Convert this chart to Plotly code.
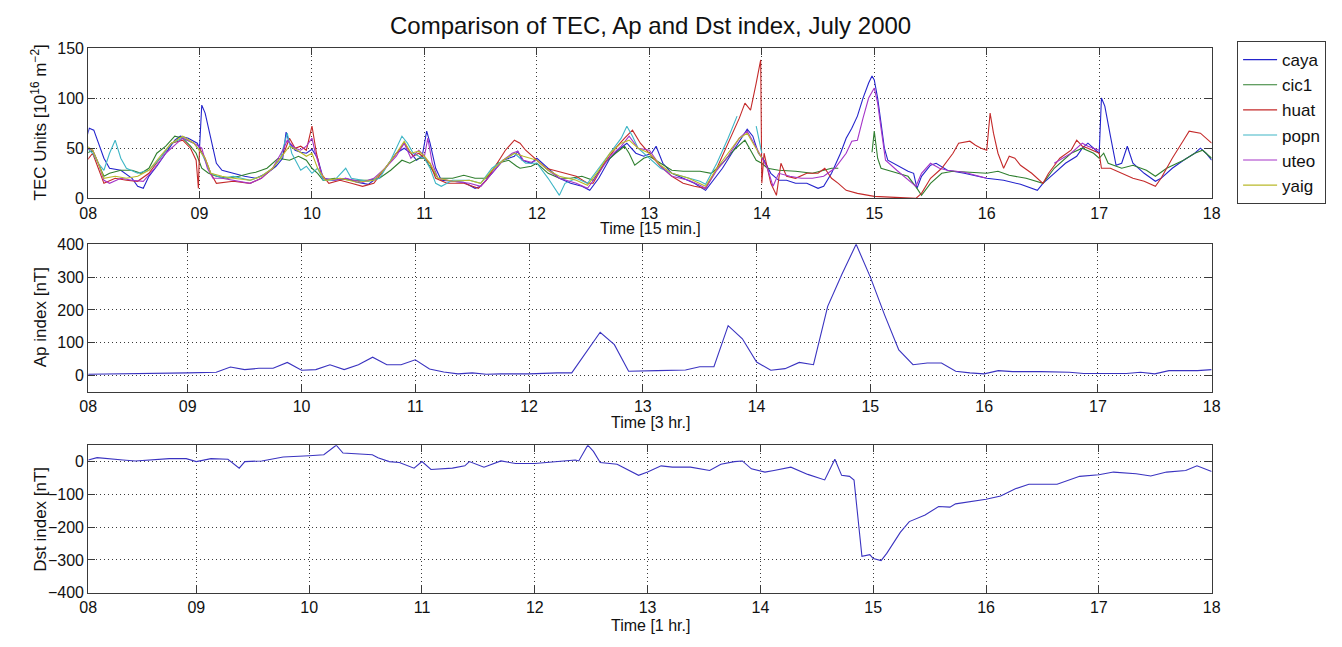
import plotly.graph_objects as go

# ---------------- data (day of July 2000, value) ----------------
CAYA = [(8.0,62),(8.02,70),(8.06,68),(8.1,55),(8.15,40),(8.2,30),(8.3,28),(8.4,20),(8.45,12),(8.5,10),
        (8.55,22),(8.62,32),(8.7,45),(8.78,58),(8.83,62),(8.9,60),(8.98,55),(9.0,50),(9.02,93),(9.05,85),
        (9.1,60),(9.15,35),(9.2,28),(9.3,25),(9.4,22),(9.5,20),(9.6,25),(9.68,32),(9.74,40),(9.77,66),
        (9.8,55),(9.85,48),(9.9,46),(9.95,45),(10.0,49),(10.05,40),(10.1,20),(10.2,18),(10.3,20),(10.4,16),
        (10.5,14),(10.55,18),(10.65,30),(10.75,45),(10.82,50),(10.88,45),(10.93,38),(10.98,42),(11.02,67),
        (11.05,55),(11.1,30),(11.15,18),(11.25,17),(11.35,16),(11.45,10),(11.5,12),(11.6,25),(11.7,38),
        (11.8,42),(11.83,47),(11.87,38),(11.95,35),(12.0,40),(12.1,30),(12.2,20),(12.3,15),(12.4,12),
        (12.47,8),(12.55,20),(12.65,40),(12.72,48),(12.8,55),(12.88,45),(12.95,42),(13.02,45),(13.06,52),
        (13.12,35),(13.2,25),(13.3,20),(13.4,15),(13.5,8),(13.55,15),(13.65,30),(13.75,48),(13.82,60),
        (13.87,69),(13.92,62),(13.97,45),(14.02,38),(14.08,25),(14.15,18),(14.22,18),(14.3,15),(14.4,15),
        (14.5,10),(14.55,12),(14.62,25),(14.7,45),(14.75,60),(14.8,70),(14.85,82),(14.9,100),(14.95,115),
        (14.98,122),(15.0,118),(15.03,100),(15.06,75),(15.09,50),(15.12,38),(15.2,33),(15.3,27),(15.35,25),
        (15.38,10),(15.42,22),(15.5,33),(15.55,35),(15.65,28),(15.8,25),(16.0,20),(16.15,18),(16.3,14),
        (16.45,8),(16.5,15),(16.6,25),(16.7,35),(16.8,42),(16.85,50),(16.9,55),(16.97,48),(17.0,45),
        (17.02,100),(17.05,92),(17.1,62),(17.15,33),(17.2,35),(17.25,52),(17.3,35),(17.4,25),(17.5,17),
        (17.55,20),(17.65,30),(17.75,38),(17.85,45),(17.9,50),(17.95,45),(18.0,38)]

CIC1 = [(8.0,45),(8.05,48),(8.1,35),(8.15,22),(8.2,25),(8.3,28),(8.4,28),(8.48,25),(8.55,30),(8.62,45),
        (8.7,52),(8.78,62),(8.85,60),(8.92,52),(8.97,45),(9.02,30),(9.08,25),(9.15,22),(9.25,20),(9.35,22),
        (9.45,25),(9.5,26),(9.6,30),(9.7,40),(9.8,38),(9.88,42),(9.95,38),(10.0,30),(10.05,25),(10.1,18),
        (10.2,20),(10.35,18),(10.5,18),(10.6,20),(10.7,28),(10.8,38),(10.87,35),(10.95,40),(11.0,40),
        (11.05,32),(11.12,20),(11.25,20),(11.35,23),(11.45,20),(11.55,20),(11.65,35),(11.75,38),(11.82,32),
        (11.85,30),(11.95,32),(12.0,35),(12.1,25),(12.2,20),(12.3,20),(12.4,22),(12.5,18),(12.6,35),
        (12.7,45),(12.78,52),(12.82,45),(12.87,33),(12.95,40),(13.0,42),(13.1,35),(13.2,28),(13.3,27),
        (13.45,27),(13.55,25),(13.65,35),(13.75,48),(13.85,58),(13.9,48),(13.95,38),(14.0,35),(14.05,30),
        (14.15,28),(14.3,27),(14.45,25),(14.55,28),(14.62,30),(14.68,30),(14.8,None),(14.98,46),(15.0,67),
        (15.03,40),(15.06,30),(15.15,27),(15.3,22),(15.38,10),(15.42,3),(15.5,15),(15.6,25),(15.7,27),
        (15.85,26),(16.0,25),(16.1,27),(16.2,23),(16.35,20),(16.5,15),(16.6,30),(16.75,45),(16.85,50),
        (16.95,45),(17.0,40),(17.04,45),(17.08,35),(17.2,30),(17.3,33),(17.42,28),(17.5,22),(17.6,30),
        (17.75,38),(17.85,45),(17.92,48),(18.0,40)]

HUAT = [(8.0,38),(8.05,45),(8.1,30),(8.15,15),(8.25,20),(8.35,18),(8.45,17),(8.55,25),(8.65,40),(8.75,55),
        (8.85,58),(8.92,50),(8.97,38),(8.99,10),(9.0,50),(9.05,40),(9.1,25),(9.15,15),(9.3,17),(9.45,15),
        (9.55,20),(9.65,30),(9.75,45),(9.8,60),(9.85,50),(9.9,52),(9.95,48),(10.0,72),(10.04,45),(10.08,25),
        (10.15,15),(10.25,18),(10.35,15),(10.45,12),(10.55,15),(10.65,30),(10.75,45),(10.82,55),(10.9,42),
        (10.95,45),(11.0,40),(11.05,35),(11.1,20),(11.2,15),(11.35,15),(11.48,10),(11.55,18),(11.65,35),
        (11.72,48),(11.8,58),(11.85,55),(11.9,48),(12.0,38),(12.08,30),(12.15,28),(12.25,25),(12.35,22),
        (12.45,15),(12.5,15),(12.6,35),(12.7,50),(12.78,60),(12.85,68),(12.92,55),(13.0,45),(13.05,38),
        (13.1,32),(13.2,22),(13.3,15),(13.4,12),(13.5,10),(13.6,30),(13.7,55),(13.8,80),(13.85,95),
        (13.9,88),(13.95,115),(13.99,138),(14.0,15),(14.02,45),(14.08,15),(14.13,3),(14.17,35),(14.22,22),
        (14.3,20),(14.4,25),(14.5,25),(14.56,30),(14.62,20),(14.68,15),(14.75,8),(14.85,5),(15.0,2),
        (15.2,1),(15.37,0),(15.42,5),(15.5,20),(15.6,30),(15.7,45),(15.75,55),(15.85,57),(15.9,53),
        (15.95,50),(16.0,48),(16.02,70),(16.03,85),(16.06,65),(16.1,45),(16.15,30),(16.2,42),(16.25,40),
        (16.3,33),(16.4,25),(16.5,15),(16.55,25),(16.65,40),(16.75,48),(16.8,58),(16.85,52),(16.9,50),
        (17.0,45),(17.02,30),(17.1,30),(17.2,25),(17.3,20),(17.4,17),(17.5,12),(17.55,20),(17.65,40),
        (17.75,58),(17.8,67),(17.9,65),(18.0,55)]

POPN = [(8.0,50),(8.05,45),(8.1,35),(8.15,28),(8.2,45),(8.25,58),(8.3,40),(8.35,30),(8.45,25),(8.55,28),
        (8.65,40),(8.75,55),(8.85,60),(8.95,55),(9.02,45),(9.1,25),(9.2,20),(9.3,22),(9.45,18),(9.55,22),
        (9.65,30),(9.72,40),(9.78,65),(9.82,45),(9.9,28),(9.95,32),(10.0,25),(10.05,30),(10.1,18),(10.2,18),
        (10.3,30),(10.35,20),(10.5,17),(10.6,20),(10.7,38),(10.8,62),(10.85,55),(10.9,45),(10.95,42),
        (11.0,40),(11.05,30),(11.1,15),(11.15,12),(11.25,18),(11.4,18),(11.5,15),(11.6,30),(11.7,38),
        (11.8,45),(11.85,40),(11.9,35),(12.0,35),(12.1,20),(12.2,3),(12.25,15),(12.35,20),(12.45,15),
        (12.55,30),(12.65,45),(12.75,60),(12.8,72),(12.85,62),(12.9,50),(13.0,40),(13.1,30),(13.2,25),
        (13.35,20),(13.45,17),(13.5,14),(13.6,35),(13.7,60),(13.78,82),(13.85,None),(13.95,72),(13.97,60),
        (14.0,45)]

UTEO = [(8.0,50),(8.05,48),(8.1,35),(8.15,18),(8.2,15),(8.3,20),(8.4,18),(8.5,17),(8.6,30),(8.7,45),
        (8.8,55),(8.85,60),(8.95,55),(9.02,50),(9.07,30),(9.12,20),(9.2,20),(9.3,18),(9.45,15),(9.55,20),
        (9.65,30),(9.75,50),(9.78,58),(9.85,50),(9.9,48),(9.95,52),(10.0,60),(10.03,45),(10.1,20),(10.2,18),
        (10.3,20),(10.45,16),(10.55,20),(10.65,30),(10.75,42),(10.82,55),(10.88,40),(10.95,48),(11.0,42),
        (11.03,60),(11.07,35),(11.12,20),(11.25,17),(11.4,15),(11.5,12),(11.6,25),(11.7,38),(11.78,45),
        (11.83,47),(11.88,38),(11.95,36),(12.0,38),(12.1,28),(12.2,20),(12.35,15),(12.45,10),(12.55,25),
        (12.65,42),(12.75,52),(12.82,62),(12.9,50),(13.0,48),(13.1,32),(13.2,22),(13.35,18),(13.45,13),
        (13.5,10),(13.6,28),(13.7,42),(13.8,60),(13.87,67),(13.93,55),(14.0,40),(14.05,30),(14.1,12),
        (14.15,25),(14.25,22),(14.35,20),(14.45,20),(14.55,22),(14.65,30),(14.75,45),(14.8,57),(14.85,58),
        (14.9,80),(14.95,100),(15.0,110),(15.03,95),(15.06,70),(15.1,38),(15.2,28),(15.3,18),(15.37,12),
        (15.42,25),(15.5,35),(15.58,30),(15.65,28),(15.8,26),(16.0,20),(16.3,None),(16.6,35),(16.75,45),
        (16.85,55),(16.9,52),(17.0,48)]

YAIG = [(8.0,52),(8.05,48),(8.1,35),(8.15,20),(8.25,22),(8.35,20),(8.45,22),(8.55,28),(8.65,42),(8.75,55),
        (8.85,62),(8.95,55),(9.05,40),(9.1,25),(9.2,22),(9.3,20),(9.45,18),(9.55,22),(9.65,30),(9.75,45),
        (9.8,52),(9.87,48),(9.95,42),(10.0,45),(10.05,30),(10.12,18),(10.25,20),(10.4,16),(10.55,18),
        (10.65,30),(10.75,45),(10.82,57),(10.88,45),(10.95,47),(11.0,42),(11.05,35),(11.12,20),(11.25,17),
        (11.4,18),(11.5,15),(11.6,28),(11.7,38),(11.8,45),(11.88,42),(12.0,38),(12.1,28),(12.2,22),
        (12.35,18),(12.45,13),(12.55,28),(12.65,45),(12.75,55),(12.82,58),(12.9,50),(13.0,45),(13.1,33),
        (13.2,25),(13.35,20),(13.5,12),(13.6,30),(13.7,45),(13.8,60),(13.87,65),(13.95,50),(14.0,40)]

AP = [(8.125,4),(8.5,5),(8.875,7),(9.0,8),(9.25,10),(9.375,26),(9.5,18),(9.625,22),(9.75,22),(9.875,40),
      (10.0,16),(10.125,18),(10.25,33),(10.375,18),(10.5,33),(10.625,56),(10.75,33),(10.875,33),(11.0,48),
      (11.125,20),(11.25,11),(11.375,5),(11.5,8),(11.625,4),(11.75,5),(12.0,5),(12.25,8),(12.375,8),
      (12.625,132),(12.75,94),(12.875,13),(13.0,13),(13.125,15),(13.375,17),(13.5,27),(13.625,27),
      (13.75,152),(13.875,112),(14.0,41),(14.125,16),(14.25,21),(14.375,40),(14.5,33),(14.625,211),
      (14.75,309),(14.875,400),(15.0,300),(15.125,185),(15.25,78),(15.375,33),(15.5,38),(15.625,38),
      (15.75,13),(15.875,8),(16.0,5),(16.125,15),(16.25,12),(16.5,12),(16.75,10),(16.875,6),(17.25,6),
      (17.375,10),(17.5,5),(17.625,15),(17.875,15),(18.0,18)]

DST = [(8.042,5),(8.12,12),(8.35,5),(8.46,2),(8.76,9),(8.91,9),(9.0,0),(9.13,9),(9.28,7),(9.38,-20),
       (9.43,0),(9.58,2),(9.77,14),(9.92,18),(10.0,18),(10.13,21),(10.24,50),(10.3,26),(10.41,23),
       (10.56,21),(10.61,12),(10.71,0),(10.8,-3),(10.93,-20),(11.0,0),(11.08,-24),(11.27,-20),(11.38,-13),
       (11.42,0),(11.55,-17),(11.7,2),(11.83,-6),(12.0,-6),(12.2,0),(12.36,5),(12.39,2),(12.47,50),
       (12.52,31),(12.58,-3),(12.73,-8),(12.92,-42),(13.0,-32),(13.12,-13),(13.22,-17),(13.38,-17),
       (13.55,-27),(13.65,-8),(13.77,0),(13.84,2),(13.92,-22),(14.04,-32),(14.12,-27),(14.27,-17),
       (14.42,-39),(14.57,-56),(14.66,7),(14.72,-42),(14.79,-45),(14.83,-56),(14.9,-289),(14.97,-284),
       (15.0,-296),(15.07,-302),(15.12,-280),(15.24,-216),(15.32,-183),(15.46,-163),(15.58,-137),
       (15.68,-139),(15.73,-129),(16.0,-115),(16.13,-105),(16.26,-83),(16.38,-69),(16.63,-69),(16.83,-45),
       (17.0,-40),(17.13,-32),(17.33,-37),(17.46,-44),(17.6,-32),(17.77,-27),(17.87,-13),(18.0,-30)]

STATIONS = ["caya", "cic1", "huat", "popn", "uteo", "yaig"]
STATION_DATA = [CAYA, CIC1, HUAT, POPN, UTEO, YAIG]
COLORS = ["#2424cc", "#2f7f2f", "#c42a2a", "#3fb6c6", "#a535c8", "#b9b92a"]

DAY_LABELS = ["08", "09", "10", "11", "12", "13", "14", "15", "16", "17", "18"]
TEC_START, AP_START, DST_START = 8.0104, 8.125, 8.0417

# ---------------- figure ----------------
W, H = 1342, 647
FONT = "Liberation Sans, Arial, Helvetica, sans-serif"

fig = go.Figure()
for name, data, col in zip(STATIONS, STATION_DATA, COLORS):
    fig.add_trace(go.Scatter(x=[p[0] for p in data], y=[p[1] for p in data], name=name,
                             mode="lines", line=dict(color=col, width=1.1),
                             xaxis="x", yaxis="y", legendgroup=name))
fig.add_trace(go.Scatter(x=[p[0] for p in AP], y=[p[1] for p in AP], mode="lines",
                         line=dict(color="#3a33c0", width=1.1), showlegend=False,
                         xaxis="x2", yaxis="y2"))
fig.add_trace(go.Scatter(x=[p[0] for p in DST], y=[p[1] for p in DST], mode="lines",
                         line=dict(color="#3a33c0", width=1.1), showlegend=False,
                         xaxis="x3", yaxis="y3"))

def px(x):
    return x / W

def py(y):
    return 1 - y / H

left, right = px(80.3), px(1219)
panels = [(41, 195.5), (242.7, 394.3), (449, 600.5)]
starts = [TEC_START, AP_START, DST_START]
yranges = [[0, 150], [-50, 400], [-400, 50]]
ytickv = [[0, 50, 100, 150], [0, 100, 200, 300, 400], [-400, -300, -200, -100, 0]]

common = dict(showline=True, linecolor="#3a3a3a", linewidth=1, mirror="allticks",
              ticks="inside", ticklen=7, tickcolor="#3a3a3a", showgrid=True,
              gridcolor="#3a3a3a", griddash="1px,3px", gridwidth=1, zeroline=False,
              tickfont=dict(family=FONT, size=16, color="#111"))

for i, ((top, bot), st, yr, yt) in enumerate(zip(panels, starts, yranges, ytickv)):
    sfx = "" if i == 0 else str(i + 1)
    fig.layout["xaxis" + sfx] = dict(domain=[left, right], range=[st, 18], anchor="y" + sfx,
                                     tickmode="array", tickvals=[st] + list(range(9, 19)),
                                     ticktext=DAY_LABELS, **common)
    fig.layout["yaxis" + sfx] = dict(domain=[py(bot), py(top)], range=yr, anchor="x" + sfx,
                                     tickmode="array", tickvals=yt, **common)

annots = [
    dict(text="Comparison of TEC, Ap and Dst index, July 2000", x=px(650), y=py(18), size=24, angle=0),
    dict(text="Time [15 min.]", x=px(650), y=py(226), size=16, angle=0),
    dict(text="Time [3 hr.]", x=px(650), y=py(426), size=16, angle=0),
    dict(text="Time [1 hr.]", x=px(650), y=py(634), size=16, angle=0),
    dict(text="TEC Units [10<sup>16</sup> m<sup>−2</sup>]", x=px(30), y=py(118), size=17, angle=-90),
    dict(text="Ap index [nT]", x=px(32), y=py(318), size=17, angle=-90),
    dict(text="Dst index [nT]", x=px(32), y=py(525), size=17, angle=-90),
]
fig.update_layout(annotations=[
    dict(text=a["text"], x=a["x"], y=a["y"], xref="paper", yref="paper", showarrow=False,
         xanchor="center", yanchor="middle", textangle=a["angle"],
         font=dict(family=FONT, size=a["size"], color="#111")) for a in annots])

fig.update_layout(
    width=W, height=H, autosize=False,
    margin=dict(l=0, r=0, t=0, b=0),
    paper_bgcolor="white", plot_bgcolor="white",
    font=dict(family=FONT, size=16, color="#111"),
    showlegend=True,
    legend=dict(x=px(1335), y=py(34), xanchor="right", yanchor="top",
                bordercolor="#3a3a3a", borderwidth=1, bgcolor="white",
                font=dict(family=FONT, size=17, color="#111"), itemwidth=34,
                tracegroupgap=8, traceorder="normal"),
)

fig.write_html("out.html")
